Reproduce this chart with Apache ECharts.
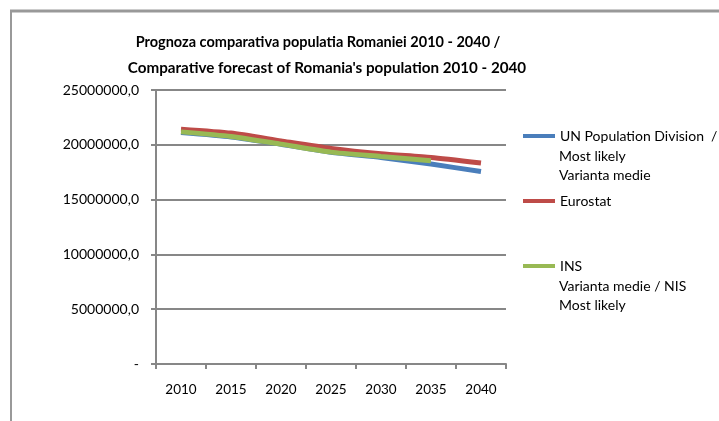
<!DOCTYPE html>
<html>
<head>
<meta charset="utf-8">
<script src="https://cdn.jsdelivr.net/npm/echarts@6/dist/echarts.min.js"></script>
<style>
html, body { margin: 0; padding: 0; background: #fff; }
#chart { width: 719px; height: 421px; }
</style>
</head>
<body>
<div id="chart"></div>
<script>
// ani / years
var years = ['2010', '2015', '2020', '2025', '2030', '2035', '2040'];
// valori
var unValues = [21120000, 20720000, 20050000, 19320000, 18850000, 18240000, 17560000];
var eurostatValues = [21430000, 21070000, 20360000, 19670000, 19180000, 18840000, 18330000];
var insValues = [21180000, 20760000, 20060000, 19330000, 18930000, 18540000];
var yTicks = [0, 5000000, 10000000, 15000000, 20000000, 25000000];
var seriesNames = [
	'UN Population Division  /\nMost likely\nVarianta medie',
	'Eurostat',
	'INS\nVarianta medie / NIS\nMost likely'
];

var font = 'Lato';
var legendFont = 14;
var chart = echarts.init(document.getElementById('chart'));

// legenda: prima linie in legend, restul ca text
function legendItem(name, top) {
	return {
		left: 523,
		top: top,
		padding: 0,
		orient: 'vertical',
		data: [name],
		icon: 'rect',
		itemWidth: 32,
		itemHeight: 4,
		itemGap: 0,
		selectedMode: false,
		formatter: function (n) {
			return n.split('\n')[0];
		},
		textStyle: { fontFamily: font, fontSize: legendFont, color: '#000' }
	};
}
function extraLines(name, y) {
	var lines = name.split('\n').slice(1);
	var out = [];
	for (var i = 0; i < lines.length; i++) {
		out.push({
			type: 'text',
			left: 559,
			top: y + (i + 1) * 19 - 7.5,
			silent: true,
			style: { text: lines[i], fontFamily: font, fontSize: legendFont, fill: '#000' }
		});
	}
	return out;
}

// chenarul graficului (sus + stanga)
var graphics = [
	{ type: 'line', z: 100, silent: true, shape: { x1: 10, y1: 11, x2: 719, y2: 11 }, style: { stroke: '#999', lineWidth: 3 } },
	{ type: 'line', z: 100, silent: true, shape: { x1: 11, y1: 10, x2: 11, y2: 421 }, style: { stroke: '#999', lineWidth: 2 } }
];
graphics = graphics.concat(extraLines(seriesNames[0], 138.3), extraLines(seriesNames[2], 268.3));

var titleStyle = { fontFamily: font, fontWeight: 'bold', color: '#000' };

var option = {
	animation: false,
	backgroundColor: '#fff',
	title: [
		{
			text: 'Prognoza comparativa populatia Romaniei 2010 - 2040 /',
			left: 313,
			textAlign: 'center',
			top: 30,
			textStyle: echarts.util.extend({ fontSize: 14.5 }, titleStyle)
		},
		{
			text: 'Comparative forecast of Romania\'s population 2010 - 2040',
			left: 322,
			textAlign: 'center',
			top: 56,
			textStyle: echarts.util.extend({ fontSize: 15.2 }, titleStyle)
		}
	],
	graphic: graphics,
	legend: [
		legendItem(seriesNames[0], 129),
		legendItem(seriesNames[1], 194),
		legendItem(seriesNames[2], 259)
	],
	grid: { left: 156, right: 213, top: 90, bottom: 57 },
	xAxis: {
		type: 'category',
		data: years,
		boundaryGap: true,
		axisLine: { lineStyle: { color: '#878787', width: 2 } },
		axisTick: { show: true, length: 5, lineStyle: { color: '#878787', width: 2 } },
		axisLabel: { fontFamily: font, fontSize: 13.5, color: '#000', margin: 19 }
	},
	yAxis: {
		type: 'value',
		min: yTicks[0],
		max: yTicks[yTicks.length - 1],
		interval: 5000000,
		axisLine: { show: true, lineStyle: { color: '#878787', width: 2 } },
		axisTick: { show: true, length: 5, lineStyle: { color: '#878787', width: 2 } },
		splitLine: { lineStyle: { color: '#878787', width: 2 } },
		axisLabel: {
			fontFamily: font,
			fontSize: 14,
			color: '#000',
			margin: 17,
			formatter: function (v) {
				return v === 0 ? '-' : v + ',0';
			}
		}
	},
	series: [
		{
			name: seriesNames[0],
			type: 'line',
			data: unValues,
			showSymbol: false,
			smooth: 0.2,
			color: '#4a7ebb',
			lineStyle: { width: 5 }
		},
		{
			name: seriesNames[1],
			type: 'line',
			data: eurostatValues,
			showSymbol: false,
			smooth: 0.2,
			color: '#be4b48',
			lineStyle: { width: 5 }
		},
		{
			name: seriesNames[2],
			type: 'line',
			data: insValues,
			showSymbol: false,
			smooth: 0.2,
			color: '#98b954',
			lineStyle: { width: 5 }
		}
	]
};
chart.setOption(option);
</script>
</body>
</html>
